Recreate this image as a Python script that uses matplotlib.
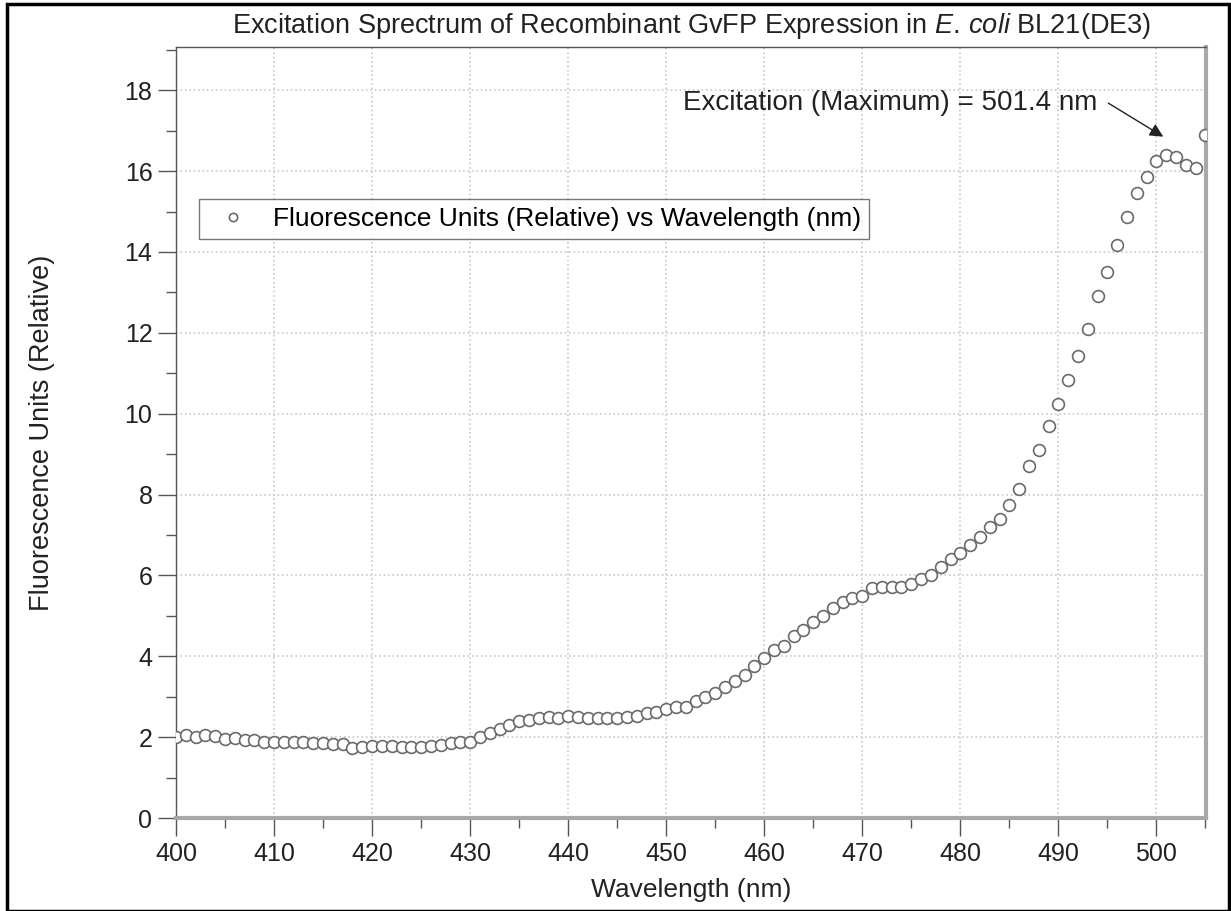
import numpy as np
import matplotlib.pyplot as plt
from matplotlib.patches import Rectangle
from matplotlib.ticker import MultipleLocator

plt.rcParams['font.family'] = ['Liberation Sans', 'DejaVu Sans']
plt.rcParams['mathtext.fontset'] = 'custom'
plt.rcParams['mathtext.rm'] = 'Liberation Sans'
plt.rcParams['mathtext.it'] = 'Liberation Sans:italic'

# excitation scan, 1 nm steps
wavelength = np.arange(400, 506)
fluorescence = [
    2.00, 2.05, 2.00, 2.05, 2.03, 1.95, 1.97, 1.92, 1.93, 1.88,
    1.88, 1.88, 1.87, 1.87, 1.86, 1.85, 1.84, 1.82, 1.73, 1.77,
    1.78, 1.78, 1.78, 1.77, 1.77, 1.77, 1.78, 1.80, 1.85, 1.88,
    1.87, 2.00, 2.10, 2.20, 2.30, 2.40, 2.42, 2.47, 2.50, 2.47,
    2.52, 2.50, 2.48, 2.47, 2.47, 2.47, 2.50, 2.52, 2.60, 2.62,
    2.70, 2.75, 2.75, 2.90, 3.00, 3.10, 3.25, 3.40, 3.55, 3.75,
    3.95, 4.15, 4.25, 4.50, 4.65, 4.85, 5.00, 5.20, 5.35, 5.45,
    5.50, 5.70, 5.72, 5.72, 5.72, 5.80, 5.90, 6.00, 6.20, 6.40,
    6.55, 6.75, 6.95, 7.20, 7.40, 7.75, 8.15, 8.70, 9.10, 9.70,
    10.25, 10.83, 11.43, 12.10, 12.90, 13.50, 14.18, 14.87, 15.45, 15.85,
    16.25, 16.39, 16.36, 16.14, 16.08, 16.90,
]
x_ticks = [400, 410, 420, 430, 440, 450, 460, 470, 480, 490, 500]
y_ticks = [0, 2, 4, 6, 8, 10, 12, 14, 16, 18]

fig = plt.figure(figsize=(12.31, 9.11), dpi=100)
ax = fig.add_axes([0.143, 0.102, 0.837, 0.8465])

ax.plot(wavelength, fluorescence, linestyle='none', marker='o', markersize=8.5,
        markerfacecolor='white', markeredgecolor='#6a6a6a', markeredgewidth=1.2,
        label='Fluorescence Units (Relative) vs Wavelength (nm)', zorder=3)

ax.set_xlim(400, 505.1)
ax.set_ylim(0, 19.07)
ax.set_xticks(x_ticks)
ax.set_yticks(y_ticks)
ax.xaxis.set_minor_locator(MultipleLocator(5))
ax.yaxis.set_minor_locator(MultipleLocator(1))
ax.tick_params(which='major', direction='out', length=13, width=1, colors='#555555',
               labelcolor='#222222', labelsize=18, pad=4)
ax.tick_params(which='minor', direction='out', length=7, width=1, colors='#555555')

ax.grid(True, which='major', linestyle=':', color='#c8c8c8', linewidth=1.2)

for side in ['left', 'top']:
    ax.spines[side].set_color('#555555')
    ax.spines[side].set_linewidth(1)
for side in ['right', 'bottom']:
    ax.spines[side].set_color('#a8a8a8')
    ax.spines[side].set_linewidth(3)

ax.set_xlabel('Wavelength (nm)', fontsize=19, color='#222222', labelpad=9)
ax.set_ylabel('Fluorescence Units (Relative)', fontsize=19.5, color='#222222', labelpad=50)
ax.set_title(r'Excitation Sprectrum of Recombinant GvFP Expression in $\it{E.\,coli}$ BL21(DE3)',
             fontsize=19.5, color='#222222', pad=10)

leg = ax.legend(loc='upper left', bbox_to_anchor=(0.022, 0.803), fontsize=19,
                frameon=True, fancybox=False, edgecolor='#555555', borderpad=0.3,
                handletextpad=0.5, markerscale=0.7, borderaxespad=0)
leg.get_frame().set_linewidth(1)

ax.text(494.0, 17.68, 'Excitation (Maximum) = 501.4 nm', ha='right', va='center',
        fontsize=20, color='#222222')
ax.annotate('', xy=(500.7, 16.85), xytext=(495.1, 17.68),
            arrowprops=dict(arrowstyle='-|>', color='#222222', lw=1, mutation_scale=20,
                            shrinkA=0, shrinkB=0))

fig.add_artist(Rectangle((0.006, 0.0), 0.992, 0.996, transform=fig.transFigure,
                         fill=False, edgecolor='black', linewidth=2.5))

fig.savefig('out.png', dpi=100)
